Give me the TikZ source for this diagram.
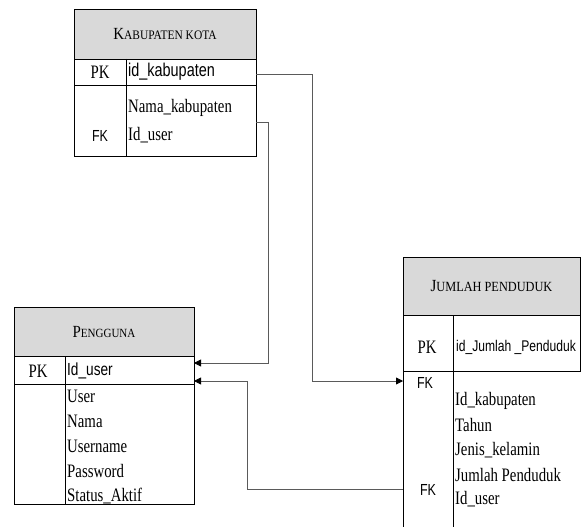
\documentclass[tikz,border=0pt]{standalone}
\usepackage{fontspec}
\setmainfont[FakeStretch=0.78]{Liberation Serif}
\newfontfamily\sansf[FakeStretch=0.78]{Liberation Sans}
\newfontfamily\titlef[FakeStretch=0.88]{Liberation Serif}
\usetikzlibrary{arrows.meta}
\definecolor{hdrgray}{HTML}{D9D9D9}
\definecolor{conngray}{HTML}{5A5A5A}
\newcommand\tcap[3][12.5]{{\titlef\fontsize{17}{17}\selectfont #2\fontsize{#1}{#1}\selectfont #3}}
\tikzset{
  tbox/.style={draw=black, line width=0.8pt, inner sep=0pt, outer sep=0pt, anchor=north west},
  hdr/.style={tbox, fill=hdrgray},
  rowt/.style={inner sep=0pt, anchor=west, font=\fontsize{19}{22}\selectfont},
  rows/.style={inner sep=0pt, anchor=west, font=\sansf\fontsize{18.5}{22}\selectfont},
  keyt/.style={inner sep=0pt, font=\fontsize{19}{22}\selectfont},
  fkt/.style={inner sep=0pt, font=\sansf\fontsize{16}{18}\selectfont},
  conn/.style={draw=conngray, line width=0.8pt},
  arr/.style={conn, -{Triangle[length=7pt,width=7pt,color=black]}},
  divl/.style={draw=black, line width=0.8pt}
}
\begin{document}
\begin{tikzpicture}[x=1pt,y=-1pt]
\useasboundingbox (0,0) rectangle (581,527);
% Kabupaten kota
\node[hdr, minimum width=182, minimum height=50] (kabh) at (74,9) {};
\node at (kabh.center) {\tcap[13]{K}{ABUPATEN KOTA}};
\node[tbox, minimum width=182, minimum height=26] (kabpk) at (74,59) {};
\node[tbox, minimum width=182, minimum height=71] (kabb) at (74,85) {};
\draw[divl] (126,59) -- (126,156);
\node[keyt] (kabpkl) at (100,72) {PK};
\node[rows] (kabid) at (128,72) {id\_kabupaten};
\node[rowt] (kabnama) at (128,108) {Nama\_kabupaten};
\node[rowt] (kabuser) at (128,135) {Id\_user};
\node[fkt] (kabfk) at (100,136) {FK};
% Pengguna
\node[hdr, minimum width=180, minimum height=49] (pgh) at (14,307) {};
\node at (pgh.center) {\tcap{P}{ENGGUNA}};
\node[tbox, minimum width=180, minimum height=28] (pgpk) at (14,356) {};
\node[tbox, minimum width=180, minimum height=120] (pgb) at (14,384) {};
\draw[divl] (65,356) -- (65,504);
\node[keyt] (pgpkl) at (38,371) {PK};
\node[rows, font=\sansf\fontsize{17.5}{22}\selectfont] (pgid) at (67,371) {Id\_user};
\node[rowt] (pguser) at (67,396) {User};
\node[rowt] (pgnama) at (67,421) {Nama};
\node[rowt] (pguname) at (67,446) {Username};
\node[rowt] (pgpass) at (67,471) {Password};
\node[rowt] (pgstat) at (67,496) {Status\_Aktif};
% Jumlah penduduk
\node[hdr, minimum width=177, minimum height=58] (jph) at (403,257) {};
\node at (jph.center) {\tcap[14]{J}{UMLAH PENDUDUK}};
\node[tbox, minimum width=177, minimum height=56] (jppk) at (403,315) {};
\draw[divl] (403,371) -- (403,527);
\draw[divl] (453,315) -- (453,527);
\node[keyt] (jppkl) at (427,347) {PK};
\node[rows, font=\sansf\fontsize{15.5}{20}\selectfont] (jpid) at (456,347) {id\_Jumlah \_Penduduk};
\node[fkt] (jpfk1) at (425,383) {FK};
\node[rowt] (jpkab) at (455,401) {Id\_kabupaten};
\node[rowt] (jptahun) at (455,425) {Tahun};
\node[rowt] (jpjk) at (455,450) {Jenis\_kelamin};
\node[rowt] (jpjml) at (455,475) {Jumlah Penduduk};
\node[rowt] (jpuser) at (455,499) {Id\_user};
\node[fkt] (jpfk2) at (428,490) {FK};
% connector ports
\coordinate (k1) at (256,74);
\coordinate (b1) at (312,381);
\coordinate (j1) at (403,381);
\coordinate (k2) at (256,122);
\coordinate (b2) at (268,363);
\coordinate (p2) at (194,363);
\coordinate (j3) at (403,489);
\coordinate (b3) at (247,381);
\coordinate (p3) at (194,381);
% connectors
\draw[arr] (k1) -| (b1) -- (j1);
\draw[arr] (k2) -| (b2) -- (p2);
\draw[arr] (j3) -| (b3) -- (p3);
\end{tikzpicture}
\end{document}
